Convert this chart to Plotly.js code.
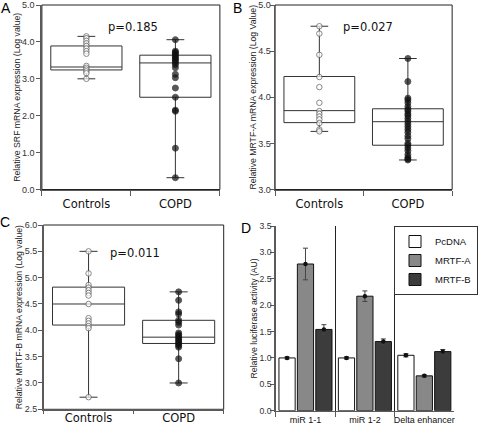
<!DOCTYPE html>
<html>
<head>
<meta charset="utf-8">
<script src="https://cdn.plot.ly/plotly-3.0.1.min.js"></script>
<style>
  html, body { margin: 0; padding: 0; background: #ffffff; }
  #chart { width: 478px; height: 428px; }
</style>
</head>
<body>
<div id="chart"></div>
<script>
// ---------- DATA ----------
const groupsABC = ['Controls', 'COPD'];

// Panel A: SRF
const aControls = [4.15, 4.1, 4.03, 3.96, 3.89, 3.82, 3.75, 3.68, 3.35, 3.3, 3.25, 3.2, 3.15, 3.0];
const aCOPD = [4.06, 3.75, 3.72, 3.68, 3.64, 3.6, 3.56, 3.52, 3.48, 3.43, 3.38, 3.3, 3.12, 3.03, 2.75, 2.5, 2.15, 2.12, 1.12, 0.32];
const aQ1 = [3.24, 2.5];
const aMedian = [3.32, 3.43];
const aQ3 = [3.89, 3.64];
const aLower = [3.0, 0.32];
const aUpper = [4.15, 4.06];
const aP = 'p=0.185';

// Panel B: MRTF-A
const bControls = [4.77, 4.69, 4.46, 4.22, 4.11, 3.94, 3.85, 3.82, 3.79, 3.76, 3.72, 3.65, 3.63];
const bCOPD = [4.42, 4.17, 3.99, 3.97, 3.94, 3.9, 3.87, 3.85, 3.82, 3.8, 3.77, 3.74, 3.71, 3.68, 3.65, 3.62, 3.58, 3.55, 3.5, 3.48, 3.45, 3.42, 3.38, 3.35, 3.33, 3.32];
const bQ1 = [3.725, 3.48];
const bMedian = [3.855, 3.735];
const bQ3 = [4.225, 3.875];
const bLower = [3.63, 3.32];
const bUpper = [4.77, 4.42];
const bP = 'p=0.027';

// Panel C: MRTF-B
const cControls = [5.5, 5.08, 4.86, 4.81, 4.76, 4.71, 4.66, 4.5, 4.23, 4.18, 4.13, 4.08, 4.04, 2.73];
const cCOPD = [4.73, 4.57, 4.35, 4.31, 4.19, 4.15, 4.1, 3.95, 3.92, 3.89, 3.86, 3.83, 3.8, 3.77, 3.74, 3.71, 3.68, 3.46, 3.0];
const cQ1 = [4.1, 3.75];
const cMedian = [4.5, 3.87];
const cQ3 = [4.82, 4.19];
const cLower = [2.73, 3.0];
const cUpper = [5.5, 4.73];
const cP = 'p=0.011';

// Panel D: luciferase
const dGroups = ['miR 1-1', 'miR 1-2', 'Delta enhancer'];
const dSeries = ['PcDNA', 'MRTF-A', 'MRTF-B'];
const dPcDNA = [1.0, 1.0, 1.05];
const dPcDNAErr = [0.02, 0.02, 0.03];
const dMRTFA = [2.78, 2.17, 0.66];
const dMRTFAErr = [0.3, 0.1, 0.02];
const dMRTFB = [1.54, 1.31, 1.12];
const dMRTFBErr = [0.09, 0.05, 0.04];

const yTitles = [
  'Relative SRF mRNA expression (Log value)',
  'Relative MRTF-A mRNA expression (Log Value)',
  'Relative MRTF-B mRNA expression (Log value)',
  'Relative luciferase activity (AU)'
];
const panelLetters = ['A', 'B', 'C', 'D'];

// ---------- STYLE ----------
const FONT = 'Liberation Sans, Arial, sans-serif';
const BIGFONT = 'DejaVu Sans, Verdana, sans-serif';
const AXC = '#5a5a5a';

const traces = [];

function boxPanel(xa, ya, controls, copd, q1, med, q3, lo, up) {
  traces.push({
    type: 'box', xaxis: xa, yaxis: ya,
    x: groupsABC, q1: q1, median: med, q3: q3, lowerfence: lo, upperfence: up,
    width: 0.8, whiskerwidth: 0.25, boxpoints: false,
    line: { color: '#333333', width: 1 },
    fillcolor: 'rgba(0,0,0,0)',
    showlegend: false, hoverinfo: 'skip'
  });
  const xs = controls.map(() => groupsABC[0]).concat(copd.map(() => groupsABC[1]));
  const ys = controls.concat(copd);
  const fill = controls.map(() => '#ffffff').concat(copd.map(() => '#111111'));
  const sizes = controls.map(() => 5.5).concat(copd.map(() => 6));
  const lines = controls.map(() => '#555555').concat(copd.map(() => '#111111'));
  traces.push({
    type: 'scatter', mode: 'markers', xaxis: xa, yaxis: ya,
    x: xs, y: ys,
    marker: { color: fill, size: sizes, line: { color: lines, width: 1 } },
    showlegend: false, hoverinfo: 'skip'
  });
}

boxPanel('x', 'y', aControls, aCOPD, aQ1, aMedian, aQ3, aLower, aUpper);
boxPanel('x2', 'y2', bControls, bCOPD, bQ1, bMedian, bQ3, bLower, bUpper);
boxPanel('x3', 'y3', cControls, cCOPD, cQ1, cMedian, cQ3, cLower, cUpper);

const dVals = [dPcDNA, dMRTFA, dMRTFB];
const dErrs = [dPcDNAErr, dMRTFAErr, dMRTFBErr];
const dColors = ['#ffffff', '#888888', '#3c3c3c'];
dSeries.forEach((name, i) => {
  traces.push({
    type: 'bar', xaxis: 'x4', yaxis: 'y4',
    name: name, x: dGroups, y: dVals[i],
    marker: { color: dColors[i], line: { color: '#111111', width: 1 } },
    hoverinfo: 'skip'
  });
});
dSeries.forEach((name, i) => {
  traces.push({
    type: 'scatter', mode: 'markers', xaxis: 'x4', yaxis: 'y4',
    orientation: 'v',
    name: name + ' err', x: dGroups, y: dVals[i],
    marker: { color: '#111111', size: 4.5 },
    error_y: { type: 'data', array: dErrs[i], visible: true, color: '#444444', thickness: 1, width: 2.5 },
    showlegend: false, hoverinfo: 'skip'
  });
});

function yaxis(domain, range, dtick, fs, title, standoff) {
  return {
    domain: domain, range: range, dtick: dtick, tick0: 0, tickformat: '.1f',
    ticks: 'outside', ticklen: 4, tickwidth: 1, tickcolor: AXC,
    ticklabelstandoff: standoff,
    showline: true, linecolor: AXC, linewidth: 1.5,
    showgrid: false, zeroline: false,
    tickfont: { family: FONT, size: fs, color: '#333333' },
    title: { text: title, font: { family: FONT, size: 8.7, color: '#222222' }, standoff: 0 }
  };
}
function xaxis(domain, anchor, fs, family, range, grid, standoff, tlen) {
  return {
    domain: domain, anchor: anchor, type: 'category', range: range,
    tickson: 'boundaries', ticks: 'outside', ticklen: tlen, tickwidth: 1, tickcolor: AXC,
    tickangle: 0, ticklabelstandoff: standoff,
    showline: true, linecolor: AXC, linewidth: 1.5,
    showgrid: !!grid, gridcolor: '#222222', gridwidth: 1, zeroline: false,
    tickfont: { family: family, size: fs, color: '#111111' }
  };
}

const W = 478, H = 428;
const px = (a, b) => [a / W, b / W];
const py = (top, bottom) => [1 - bottom / H, 1 - top / H];

const layout = {
  width: W, height: H,
  margin: { l: 0, r: 0, t: 0, b: 0 },
  paper_bgcolor: '#ffffff', plot_bgcolor: 'rgba(0,0,0,0)',
  showlegend: true,
  barmode: 'group', bargap: 0.07, bargroupgap: 0.12,
  scattermode: 'group', scattergap: 0.07,
  xaxis: xaxis(px(44, 231), 'y', 11.5, BIGFONT, [-0.5, 1.5], false, 3, 5),
  yaxis: yaxis(py(5, 189.5), [0, 5], 1, 9, yTitles[0], 0),
  xaxis2: xaxis(px(289, 475), 'y2', 11.5, BIGFONT, [-0.5, 1.5], false, 3, 5),
  yaxis2: Object.assign(yaxis(py(5, 189.5), [3, 5], 0.5, 9, yTitles[1], -3), { anchor: 'x2' }),
  xaxis3: xaxis(px(45.7, 235), 'y3', 11.5, BIGFONT, [-0.5, 1.5], false, -3, 3),
  yaxis3: Object.assign(yaxis(py(225, 409.3), [2.5, 6], 0.5, 9, yTitles[2], -1), { anchor: 'x3' }),
  xaxis4: xaxis(px(289.7, 477), 'y4', 9, FONT, [-0.5, 2.5], true, 0, 5),
  yaxis4: Object.assign(yaxis(py(226, 410.7), [0, 3.5], 0.5, 8.7, yTitles[3], -3), { anchor: 'x4' }),
  legend: {
    x: 414 / W, y: 1 - 226 / H, xanchor: 'left', yanchor: 'top',
    bgcolor: '#ffffff', bordercolor: '#333333', borderwidth: 1,
    font: { family: FONT, size: 9.5, color: '#111111' },
    tracegroupgap: 0, itemwidth: 30
  },
  shapes: ['x', 'x2', 'x3'].map((xa, i) => ({
    type: 'rect', xref: xa + ' domain', yref: ['y', 'y2', 'y3'][i] + ' domain',
    x0: 0, x1: 1, y0: 0, y1: 1, line: { color: '#222222', width: 1 }, layer: 'below'
  })),
  annotations: [
    { text: panelLetters[0], x: 6 / W, y: 1 - 8 / H },
    { text: panelLetters[1], x: 249 / W, y: 1 - 8 / H },
    { text: panelLetters[2], x: 5 / W, y: 1 - 222 / H },
    { text: panelLetters[3], x: 258 / W, y: 1 - 228 / H }
  ].map(a => Object.assign(a, {
    xref: 'paper', yref: 'paper', showarrow: false, xanchor: 'center', yanchor: 'middle',
    font: { family: FONT, size: 14, color: '#000000' }
  })).concat([
    { text: aP, x: 140 / W, y: 1 - 27 / H },
    { text: bP, x: 387 / W, y: 1 - 27 / H },
    { text: cP, x: 142 / W, y: 1 - 253 / H }
  ].map(a => Object.assign(a, {
    xref: 'paper', yref: 'paper', showarrow: false, xanchor: 'center', yanchor: 'middle',
    font: { family: BIGFONT, size: 11.5, color: '#111111' }
  })))
};

Plotly.newPlot('chart', traces, layout, { staticPlot: true, displayModeBar: false });
</script>
</body>
</html>
